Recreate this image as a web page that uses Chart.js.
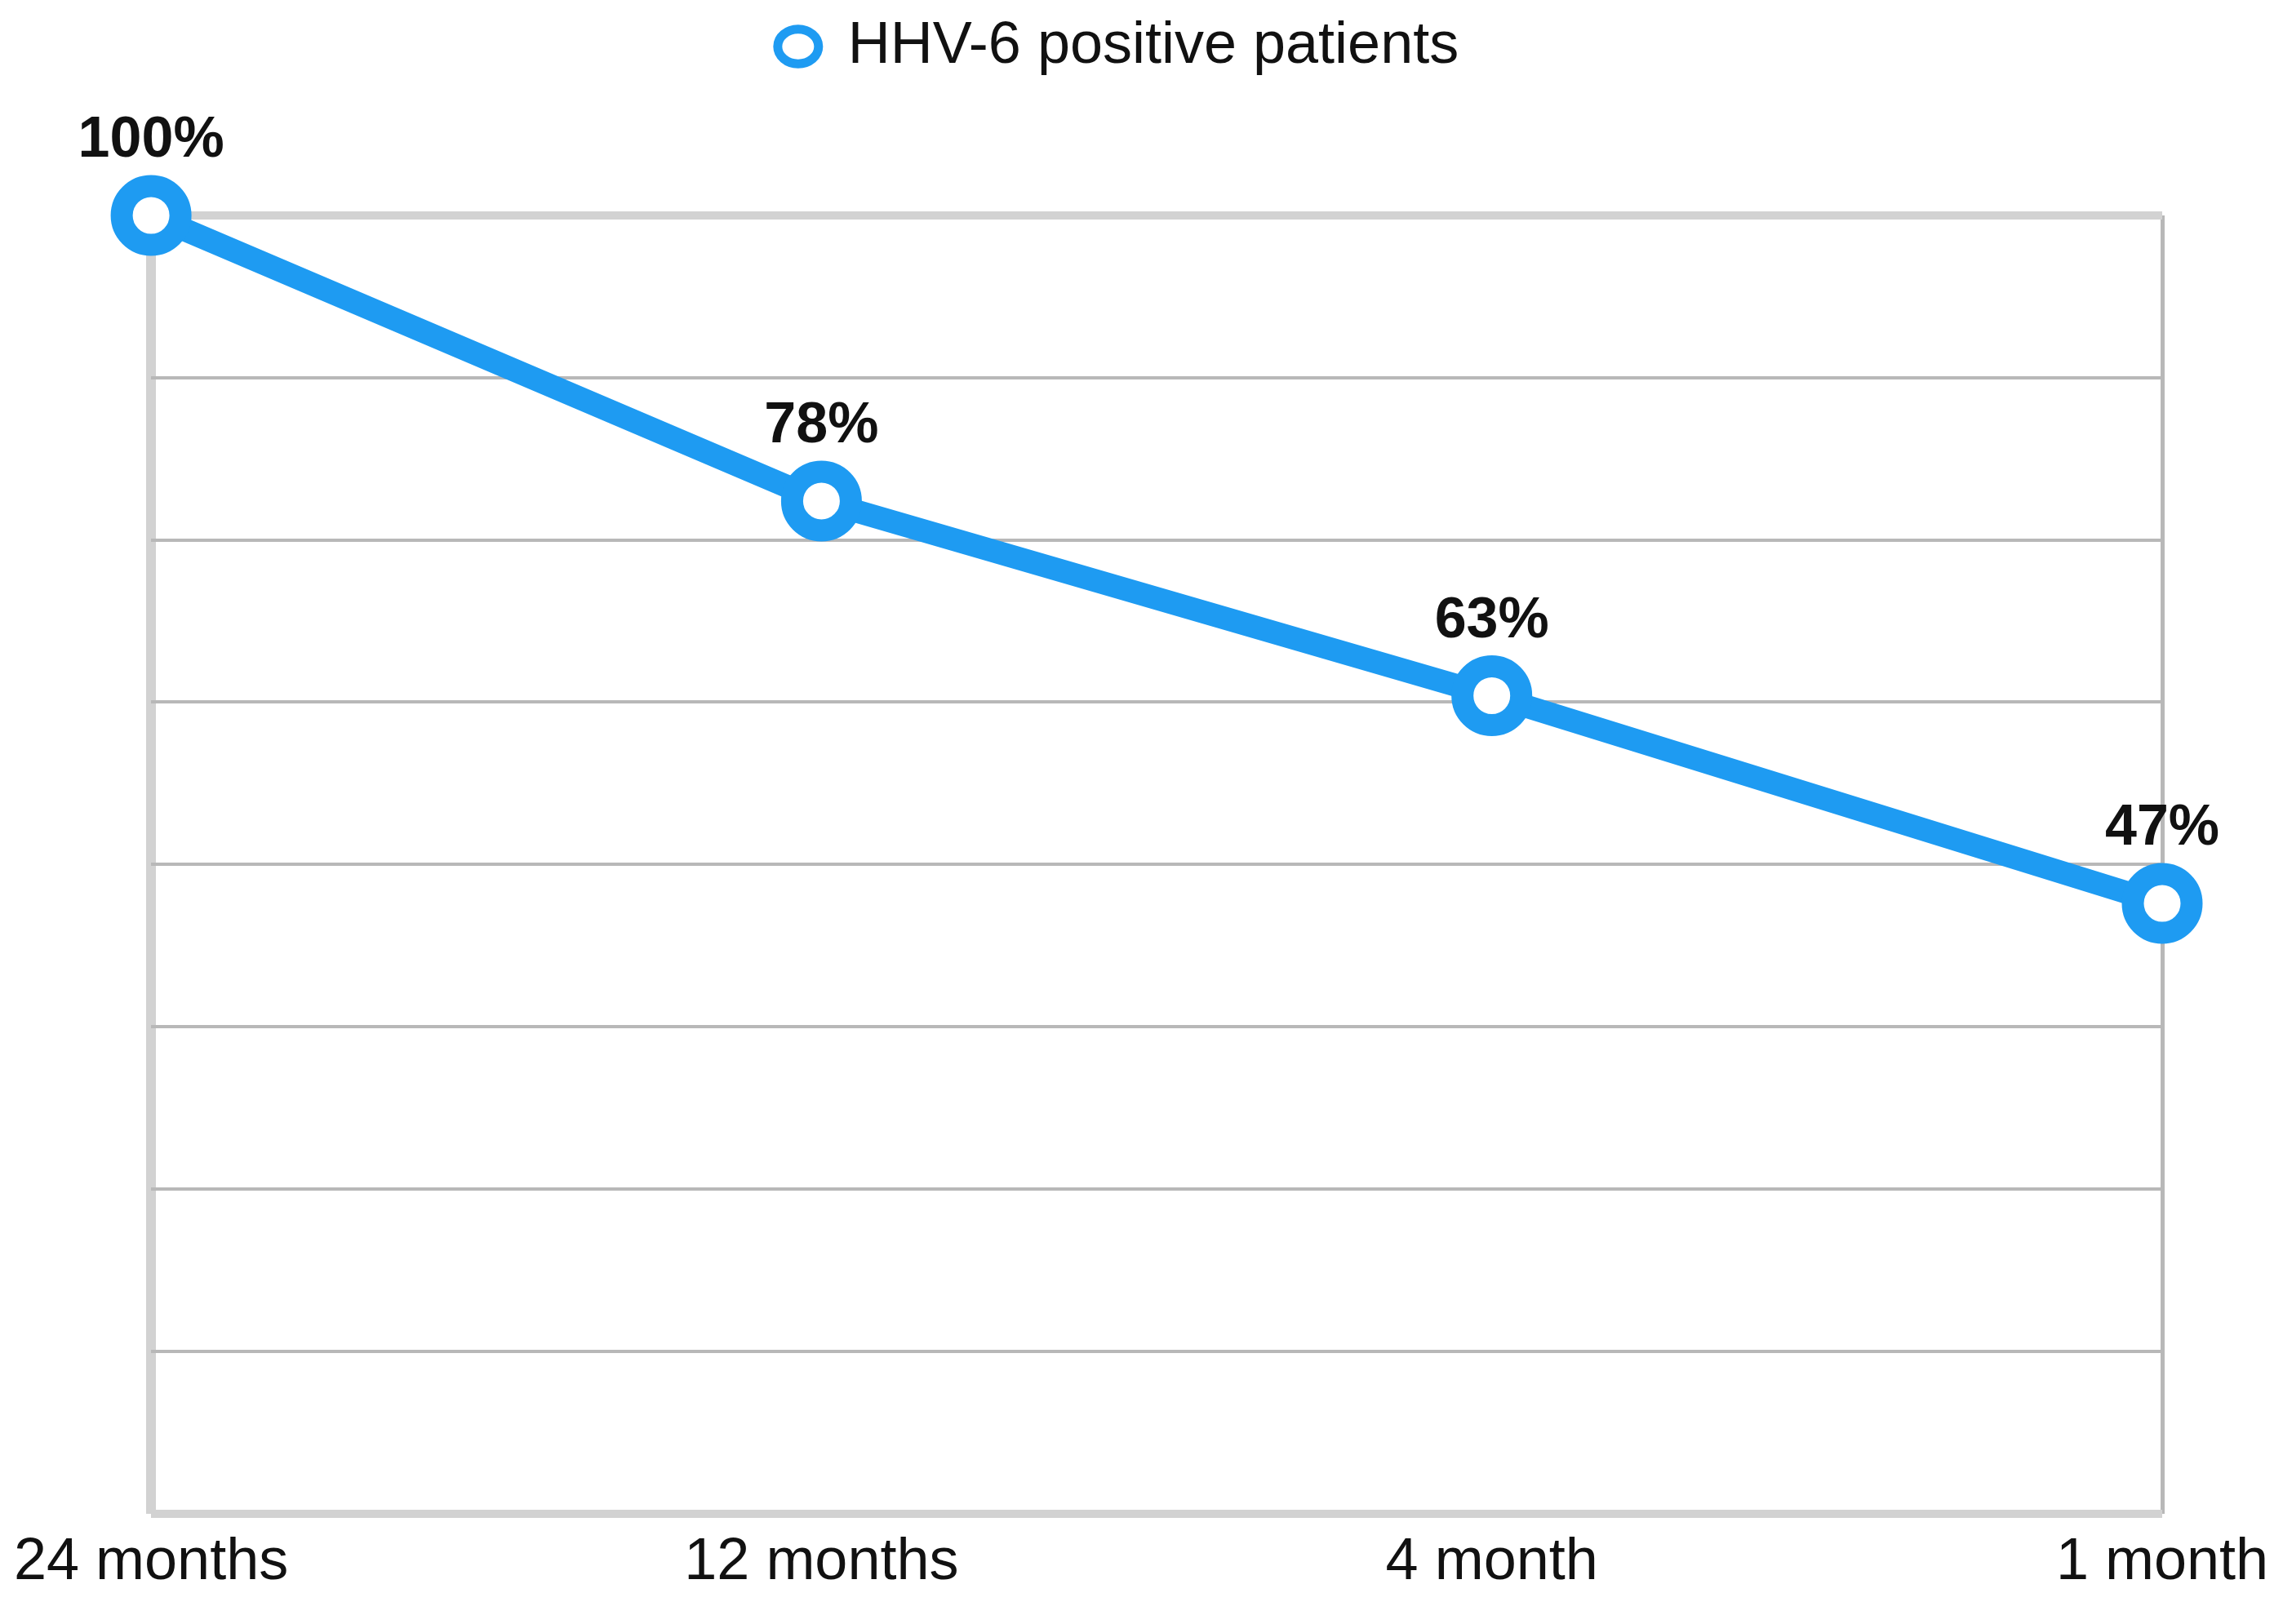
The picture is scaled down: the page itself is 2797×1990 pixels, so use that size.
<!DOCTYPE html>
<html>
<head>
<meta charset="utf-8">
<script src="https://cdn.jsdelivr.net/npm/chart.js@4/dist/chart.umd.min.js"></script>
<style>
  html, body { margin: 0; padding: 0; background: #fff; }
  #wrap { width: 2797px; height: 1990px; }
</style>
</head>
<body>
<div id="wrap"><canvas id="lineChart" width="2797" height="1990"></canvas></div>
<script>
// donnees
const categories = ['24 months', '12 months', '4 month', '1 month'];
const positifs = [100, 78, 63, 47];
const etiquettes = ['100%', '78%', '63%', '47%'];
const nomSerie = 'HHV-6 positive patients';

const bleu = '#1e9bf2';
const police = '"Liberation Sans", Arial, sans-serif';

// petit plugin pour ecrire les pourcentages au-dessus des points
const etiquettesPlugin = {
    id: 'etiquettes',
    afterDatasetsDraw(chart) {
        const ctx = chart.ctx;
        const meta = chart.getDatasetMeta(0);
        ctx.save();
        ctx.font = 'bold 70px ' + police;
        ctx.fillStyle = '#111';
        ctx.textAlign = 'center';
        ctx.textBaseline = 'middle';
        meta.data.forEach((pt, i) => {
            ctx.fillText(etiquettes[i], pt.x, pt.y - 91);
        });
        ctx.restore();
    }
};

// espace sous la legende (la legende reste en haut, la zone du graphique descend)
const espaceLegende = {
    id: 'espaceLegende',
    beforeInit(chart) {
        const fitOrigine = chart.legend.fit;
        chart.legend.fit = function () {
            fitOrigine.bind(chart.legend)();
            this.height += 161;
        };
    },
    afterLayout(chart) {
        // la legende de l'original est un peu decalee vers la gauche
        chart.legend.left -= 47;
        chart.legend.right -= 47;
    }
};

const ctx = document.getElementById('lineChart').getContext('2d');
const lineChart = new Chart(ctx, {
    type: 'line',
    data: {
        labels: categories,
        datasets: [{
            label: nomSerie,
            data: positifs,
            borderColor: bleu,
            backgroundColor: '#fff',
            borderWidth: 28,
            pointRadius: 36,
            pointBorderWidth: 27,
            pointBackgroundColor: '#fff',
            pointBorderColor: bleu,
            pointHoverRadius: 36,
            tension: 0,
            clip: false
        }]
    },
    options: {
        responsive: false,
        devicePixelRatio: 1,
        animation: false,
        layout: {
            padding: { top: 0, left: 185, right: 148, bottom: 15 }
        },
        plugins: {
            legend: {
                display: true,
                position: 'top',
                labels: {
                    usePointStyle: true,
                    pointStyleWidth: 50,
                    boxWidth: 50,
                    boxHeight: 30,
                    padding: 21,
                    color: '#111',
                    font: { family: police, size: 72 },
                    generateLabels: function (chart) {
                        const items = Chart.defaults.plugins.legend.labels.generateLabels(chart);
                        return items.map(it => {
                            it.lineWidth = 11;
                            it.fillStyle = '#fff';
                            it.strokeStyle = bleu;
                            it.pointStyle = 'circle';
                            return it;
                        });
                    }
                }
            },
            tooltip: { enabled: false }
        },
        scales: {
            x: {
                offset: false,
                border: { display: false },
                grid: {
                    drawTicks: false,
                    color: c => c.index === 0 ? '#d2d2d2' : (c.index === categories.length - 1 ? '#b8b8b8' : 'rgba(0,0,0,0)'),
                    lineWidth: c => c.index === 0 ? 12 : 5
                },
                ticks: {
                    color: '#111',
                    padding: 17,
                    maxRotation: 0,
                    font: { family: police, size: 72 }
                }
            },
            y: {
                min: 0,
                max: 100,
                border: { display: false },
                grid: {
                    drawTicks: false,
                    color: c => (c.tick.value === 0 || c.tick.value === 100) ? '#d2d2d2' : '#b8b8b8',
                    lineWidth: c => (c.tick.value === 0 || c.tick.value === 100) ? 10 : 4
                },
                ticks: {
                    display: false,
                    stepSize: 12.5
                }
            }
        }
    },
    plugins: [etiquettesPlugin, espaceLegende]
});
</script>
</body>
</html>
